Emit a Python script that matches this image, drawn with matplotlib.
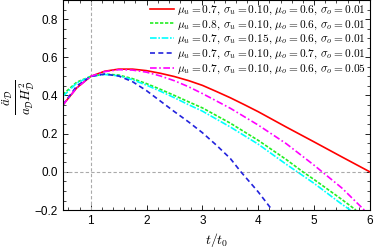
import matplotlib
matplotlib.use("Agg")
import matplotlib.pyplot as plt
import numpy as np

plt.rcParams['mathtext.fontset'] = 'cm'
plt.rcParams['font.family'] = ['Liberation Sans', 'DejaVu Sans']

# curve samples
t_red = [0.5, 0.75, 1.0, 1.25, 1.5, 1.75, 2.0, 2.25, 2.5, 2.75, 3.0, 3.25, 3.5, 3.75,
         4.0, 4.5, 5.0, 5.5, 6.0]
y_red = [0.35, 0.44, 0.50, 0.527, 0.538, 0.538, 0.53, 0.516, 0.499, 0.478, 0.453, 0.421,
         0.388, 0.352, 0.315, 0.235, 0.157, 0.078, 0.0]

t_green = [0.5, 0.75, 1.0, 1.25, 1.5, 1.75, 2.0, 2.25, 2.5, 2.75, 3.0, 3.5, 4.0, 4.5,
           4.8, 5.0, 5.5, 5.75]
y_green = [0.405, 0.47, 0.50, 0.512, 0.507, 0.488, 0.462, 0.432, 0.40, 0.367, 0.335, 0.255,
           0.165, 0.065, 0.0, -0.04, -0.145, -0.2]

t_cyan = [0.5, 0.75, 1.0, 1.25, 1.5, 1.75, 2.0, 2.25, 2.5, 2.75, 3.0, 3.5, 4.0, 4.5,
          4.7, 5.0, 5.5, 5.65]
y_cyan = [0.395, 0.465, 0.50, 0.51, 0.503, 0.482, 0.454, 0.422, 0.388, 0.352, 0.318, 0.235,
          0.145, 0.04, 0.0, -0.06, -0.17, -0.2]

t_blue = [0.5, 0.75, 1.0, 1.25, 1.5, 1.75, 2.0, 2.25, 2.5, 2.75, 3.0, 3.25, 3.5, 3.69,
          4.0, 4.25]
y_blue = [0.35, 0.45, 0.50, 0.512, 0.502, 0.472, 0.425, 0.37, 0.315, 0.262, 0.205, 0.14,
          0.07, 0.0, -0.105, -0.2]

t_mag = [0.5, 0.75, 1.0, 1.25, 1.5, 1.75, 2.0, 2.25, 2.5, 2.75, 3.0, 3.5, 4.0, 4.5, 5.0,
         5.5, 5.9]
y_mag = [0.35, 0.44, 0.50, 0.525, 0.535, 0.533, 0.522, 0.502, 0.477, 0.446, 0.41, 0.333,
         0.245, 0.148, 0.035, -0.085, -0.2]

labels = [
    r'$\mu_u = 0.7,\, \sigma_u = 0.10,\, \mu_o = 0.6,\, \sigma_o = 0.01$',
    r'$\mu_u = 0.8,\, \sigma_u = 0.10,\, \mu_o = 0.6,\, \sigma_o = 0.01$',
    r'$\mu_u = 0.7,\, \sigma_u = 0.15,\, \mu_o = 0.6,\, \sigma_o = 0.01$',
    r'$\mu_u = 0.7,\, \sigma_u = 0.10,\, \mu_o = 0.7,\, \sigma_o = 0.01$',
    r'$\mu_u = 0.7,\, \sigma_u = 0.10,\, \mu_o = 0.6,\, \sigma_o = 0.05$',
]

fig = plt.figure(figsize=(3.74, 2.48), dpi=100)
ax = fig.add_axes([0.168, 0.153, 0.821, 0.847])

ax.axvline(1, color='#aaaaaa', ls=(0, (3, 2)), lw=0.8)
ax.axhline(0, color='#aaaaaa', ls=(0, (3, 2)), lw=0.8)

ax.plot(t_red, y_red, color='red', lw=1.2, label=labels[0])
ax.plot(t_green, y_green, color='#22ee22', lw=1.2, ls=(0, (2, 1)), label=labels[1])
ax.plot(t_cyan, y_cyan, color='cyan', lw=1.2, ls=(0, (4, 1, 1, 1)), label=labels[2])
ax.plot(t_blue, y_blue, color='#2222dd', lw=1.2, ls=(0, (3, 2)), label=labels[3])
ax.plot(t_mag, y_mag, color='magenta', lw=1.2, ls=(0, (4, 1.5, 1, 1.5)), label=labels[4])

ax.set_xlim(0.5, 6)
ax.set_ylim(-0.2, 0.9)
ax.set_xticks([1, 2, 3, 4, 5, 6])
ax.set_yticks([-0.2, 0.0, 0.2, 0.4, 0.6, 0.8])
ax.set_yticklabels(['\u22120.2', '0.0', '0.2', '0.4', '0.6', '0.8'])
ax.set_xticks(np.arange(0.6, 6.0, 0.2), minor=True)
ax.set_yticks(np.arange(-0.2, 0.9, 0.05), minor=True)
ax.tick_params(which='both', direction='in', top=True, right=True, labelsize=8.5)
ax.tick_params(which='major', length=3.5, width=0.6)
ax.tick_params(which='minor', length=2, width=0.5)
for s in ax.spines.values():
    s.set_linewidth(0.8)

ax.set_xlabel(r'$t/t_0$', fontsize=10, labelpad=3)
# y label placed by hand, centred left of the tick labels
fig.text(19 / 374, 1 - 97 / 248, r'$\frac{\ddot{a}_\mathcal{D}}{a_\mathcal{D} H_\mathcal{D}^2}$',
         fontsize=13.5, rotation=90, ha='center', va='center')

ax.legend(loc='upper right', fontsize=8.2, frameon=False, handlelength=2.1,
          handletextpad=0.3, labelspacing=0.12, borderaxespad=0.1, borderpad=0.2)

fig.savefig('out.png', dpi=100)
